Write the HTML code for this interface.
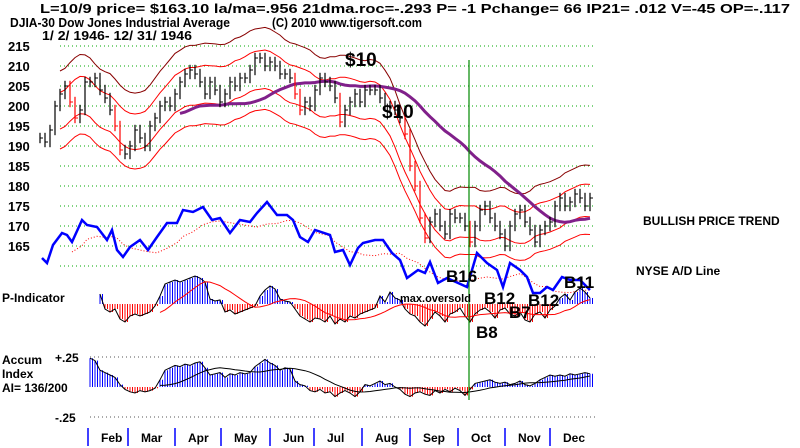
<!DOCTYPE html>
<html><head><meta charset="utf-8"><style>
body{margin:0;background:#fff}
svg{display:block;font-family:"Liberation Sans",sans-serif}
</style></head><body>
<svg id="c" width="800" height="448" xmlns="http://www.w3.org/2000/svg">
<g font-size="13" font-weight="bold" fill="#000">
<text x="40" y="13" textLength="750" lengthAdjust="spacingAndGlyphs">L=10/9  price= $163.10  la/ma=.956 21dma.roc=-.293 P= -1 Pchange=  66 IP21= .012 V=-45 OP=-.117</text>
<text x="10" y="27" textLength="220" lengthAdjust="spacingAndGlyphs">DJIA-30  Dow Jones Industrial Average</text>
<text x="272" y="27" textLength="150" lengthAdjust="spacingAndGlyphs">(C) 2010 www.tigersoft.com</text>
<text x="42" y="40" textLength="150" lengthAdjust="spacingAndGlyphs">1/ 2/ 1946- 12/ 31/ 1946</text>
<text x="643" y="225" font-size="12">BULLISH PRICE TREND</text>
<text x="636" y="275" font-size="12">NYSE A/D Line</text>
<text x="2" y="302" font-size="12">P-Indicator</text>
<text x="2" y="364" font-size="12">Accum</text>
<text x="2" y="378" font-size="12">Index</text>
<text x="2" y="392" font-size="12">AI= 136/200</text>
<text x="55" y="362" font-size="12">+.25</text>
<text x="55" y="422" font-size="12">-.25</text>
</g>
<g id="grid"></g><g id="marks"></g>
<g font-weight="bold" fill="#000">
<text x="345" y="66" font-size="19">$10</text>
<text x="382" y="118" font-size="19">$10</text>
<text x="446" y="282" font-size="17">B16</text>
<text x="564" y="288" font-size="17">B11</text>
<text x="484" y="304" font-size="17">B12</text>
<text x="528" y="306" font-size="17">B12</text>
<text x="509" y="318" font-size="17">B7</text>
<text x="476" y="338" font-size="17">B8</text>
<text x="400" y="302" font-size="11">max.oversold</text>
</g>
</svg>
<script>
const priceTicks=[215,210,205,200,195,190,185,180,175,170,165];
const months=["Feb","Mar","Apr","May","Jun","Jul","Aug","Sep","Oct","Nov","Dec"];
const monthX=[88,128,175,221,270,314,362,410,458,505,550];
const closes=[192,191,194,200,203,205,201,197,199,206,206,207,204,202,199,195,189,188,190,194,192,190,195,197,200,201,200,203,206,208,209,208,206,203,206,204,201,203,206,205,207,207,209,212,212,210,211,210,208,208,207,203,199,201,200,204,207,206,205,202,196,199,201,203,201,204,204,204,202,200,200,199,197,193,185,180,172,167,171,173,170,168,173,172,172,170,166,170,174,175,172,170,168,165,170,173,174,171,169,166,169,170,171,175,177,175,176,178,177,175,177];
const adLineX=[42,47,53,62,67,72,82,87,97,107,112,117,123,130,140,148,157,167,177,183,193,203,212,220,230,240,250,257,267,277,287,293,300,308,315,330,335,343,350,358,363,375,383,392,400,407,418,425,430,438,447,467,477,487,497,503,510,520,527,533,540,547,553,562,570,580,590];
const adLineY=[258,263,245,233,235,242,220,225,227,240,230,250,257,247,240,250,237,223,223,210,212,207,220,218,233,220,222,213,202,215,215,220,237,242,230,235,252,250,265,248,243,240,240,253,260,278,270,273,262,283,278,287,253,263,270,287,263,270,277,293,293,287,290,277,280,280,290];
const pInd=[10,-5,-8,-5,-15,-18,-12,-10,-12,-10,-8,-2,8,20,22,24,22,24,26,28,26,22,5,3,4,-8,-6,-10,-8,-6,-4,-2,8,14,18,15,5,3,2,-5,-12,-15,-18,-14,-15,-18,-12,-20,-15,-18,-12,-14,-10,-8,-6,-4,8,2,12,6,4,-5,-10,-12,-18,-22,-15,-8,-12,-18,-10,-8,-4,-12,-18,-10,-6,-4,-8,-14,-6,-4,-10,-12,-8,-16,-18,-10,-8,-14,-6,-2,6,10,4,12,16,12,6];
const accum=[.24,.22,.14,.12,.10,.08,.02,-.02,-.04,-.05,-.03,-.04,-.03,-.01,.06,.14,.16,.18,.17,.19,.18,.20,.21,.16,.10,.11,.12,.08,.11,.10,.12,.11,.12,.17,.20,.23,.20,.18,.14,.16,.15,.05,.02,.01,-.03,-.04,-.02,-.05,-.04,-.08,-.05,-.03,-.05,-.08,-.04,.02,.01,.03,.05,.02,.03,.00,-.02,-.06,-.08,-.05,-.04,-.06,-.07,-.03,-.05,-.02,-.04,-.01,-.03,-.07,-.02,.03,.04,.05,.06,.04,.03,.04,.02,.03,.05,.02,.01,.03,.06,.08,.10,.09,.10,.09,.11,.10,.11,.12,.11];

const NS="http://www.w3.org/2000/svg";
const svg=document.getElementById('c'),G=document.getElementById('grid'),M=document.getElementById('marks');
function el(t,a,p){const e=document.createElementNS(NS,t);for(const k in a)e.setAttribute(k,a[k]);(p||M).appendChild(e);return e;}
const py=v=>46+(215-v)*4;
const px=i=>40+i*5;
function ma(arr,w){return arr.map((v,i)=>{let s=0,n=0;for(let j=Math.max(0,i-w+1);j<=i;j++){s+=arr[j];n++;}return s/n;});}
function cma(arr,h){return arr.map((v,i)=>{let s=0,n=0;for(let j=Math.max(0,i-h);j<=Math.min(arr.length-1,i+h);j++){s+=arr[j];n++;}return s/n;});}
function poly(xs,ys){return xs.map((x,i)=>x.toFixed(1)+','+ys[i].toFixed(1)).join(' ');}

priceTicks.forEach(t=>{
 const l=el('line',{x1:60,x2:595,y1:py(t),y2:py(t),stroke:'#0a0','stroke-dasharray':'1 3'},G);
 
 const tx=el('text',{x:8,y:py(t)+5,'font-size':13,'font-weight':'bold'},G);tx.textContent=t;
 
});
const g160=el('line',{x1:60,x2:595,y1:py(160),y2:py(160),stroke:'#0a0','stroke-dasharray':'1 3'},G);

[357,417].forEach(y=>{const l=el('line',{x1:90,x2:595,y1:y,y2:y,stroke:'#555','stroke-dasharray':'1 3'},G);
 });
months.forEach((m,i)=>{
 const l=el('line',{x1:monthX[i],x2:monthX[i],y1:428,y2:446,stroke:'#00f','stroke-width':1.5},G);
 
 const t=el('text',{x:monthX[i]+13,y:442,'font-size':12,'font-weight':'bold'},G);t.textContent=m;
 
});

// bands (centered average)
const xs=closes.map((_,i)=>px(i));
const mc=cma(closes,5);
[[1.05,'#800'],[1.023,'#f00'],[0.977,'#f00'],[0.952,'#f00']].forEach(([f,c])=>{
 const s=4;const b=el('polyline',{points:poly(xs.slice(s),mc.slice(s).map(v=>py(v*f))),fill:'none',stroke:c,'stroke-width':1});
 
});
const m50=ma(closes,30);
const pm=el('polyline',{points:poly(xs.slice(28),m50.slice(28).map(py)),fill:'none',stroke:'#80208a','stroke-width':3});


// price bars
closes.forEach((c,i)=>{
 const x=px(i),prev=i?closes[i-1]:c;
 const hi=Math.max(c,prev)+1.3,lo=Math.min(c,prev)-1.3;
 const col=(c<prev-3)?'#f00':'#000';
 const b=el('line',{x1:x,x2:x,y1:py(hi),y2:py(lo),stroke:col,'stroke-width':1.2});
 
 const t=el('line',{x1:x,x2:x+3,y1:py(c),y2:py(c),stroke:col});
 
});

// A/D line
const adMa=ma(adLineY,6);
const adm=el('polyline',{points:poly(adLineX.slice(5),adMa.slice(5).map(v=>v+6)),fill:'none',stroke:'#f00','stroke-dasharray':'1 2'});

const ad=el('polyline',{points:poly(adLineX,adLineY),fill:'none',stroke:'#00f','stroke-width':2.5});


// P-indicator
const pBase=304;
pInd.forEach((v,i)=>{const x=100+i*5;
 for(let k=0;k<2;k++){const b=el('line',{x1:x+k*2.5,x2:x+k*2.5,y1:pBase,y2:pBase-v,stroke:v>=0?'#00f':'#f00'});
 }
});
const pxs=pInd.map((_,i)=>100+i*5);
const po=el('polyline',{points:poly(pxs,pInd.map(v=>pBase-v)),fill:'none',stroke:'#000'});

const pm2=ma(pInd,10);
const pl=el('polyline',{points:poly(pxs.slice(12),pm2.slice(12).map(v=>pBase-v)),fill:'none',stroke:'#f00'});


// Accum index
const aZero=387,aScale=120;
accum.forEach((v,i)=>{const x=90+i*5;
 for(let k=0;k<2;k++){const b=el('line',{x1:x+k*2.5,x2:x+k*2.5,y1:aZero,y2:aZero-v*aScale,stroke:v>=0?'#00f':'#f00'});
 }
});
const axs=accum.map((_,i)=>90+i*5);
const ao=el('polyline',{points:poly(axs,accum.map(v=>aZero-v*aScale)),fill:'none',stroke:'#000'});

const am=ma(accum,12);
const al=el('polyline',{points:poly(axs.slice(14),am.slice(14).map(v=>aZero-v*aScale)),fill:'none',stroke:'#000'});


// vertical marker
const vl=el('line',{x1:469,x2:469,y1:60,y2:400,stroke:'#080','stroke-width':1.2});

</script>
</body></html>
